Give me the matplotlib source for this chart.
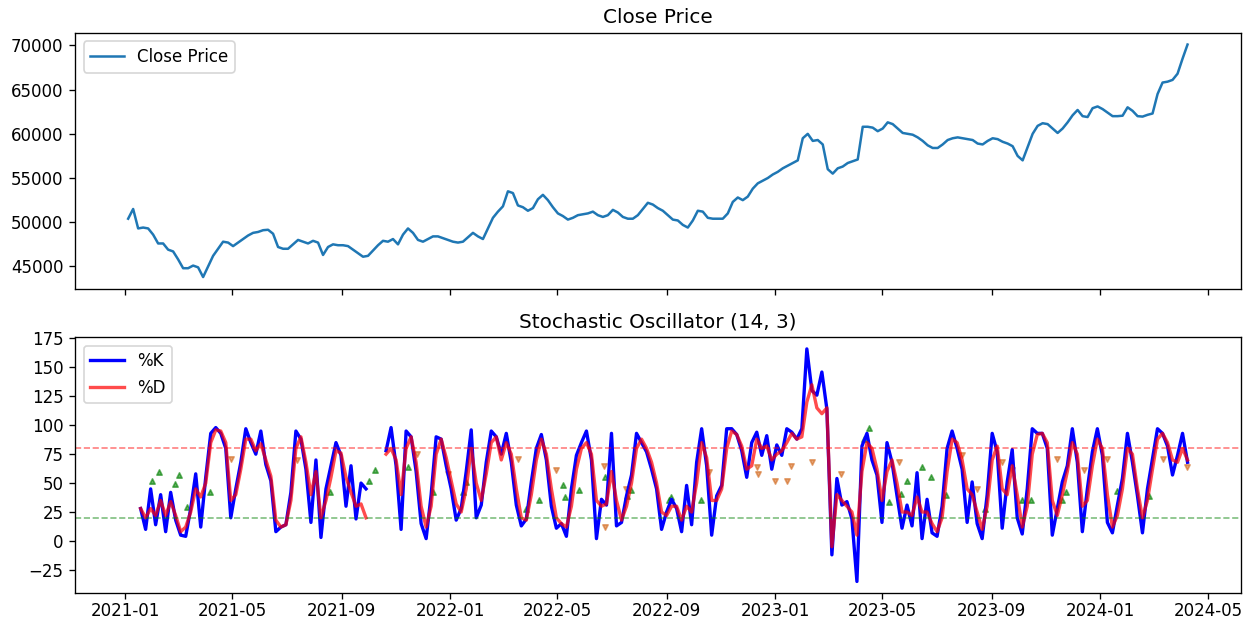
import numpy as np
import pandas as pd
from matplotlib import pyplot as plt
from matplotlib.ticker import MultipleLocator

nan = np.nan

# close price at an even spacing
close_prices = [
    50400, 51500, 49300, 49400, 49300, 48600, 47600, 47600, 46900, 46700,
    45800, 44800, 44800, 45100, 44900, 43800, 45000, 46200, 47000, 47800,
    47700, 47300, 47700, 48100, 48500, 48800, 48900, 49100, 49150, 48700,
    47200, 47000, 47000, 47500, 48000, 47800, 47600, 47900, 47700, 46300,
    47200, 47500, 47400, 47400, 47300, 46900, 46500, 46100, 46200, 46800,
    47400, 47900, 47800, 48100, 47500, 48600, 49300, 48800, 48000, 47800,
    48100, 48400, 48400, 48200, 48000, 47800, 47700, 47800, 48300, 48800,
    48400, 48100, 49300, 50500, 51200, 51800, 53500, 53300, 51900, 51700,
    51300, 51600, 52600, 53100, 52500, 51700, 51000, 50700, 50300, 50500,
    50800, 50900, 51000, 51200, 50800, 50600, 50800, 51400, 51100, 50600,
    50400, 50400, 50800, 51500, 52200, 52000, 51600, 51300, 50800, 50300,
    50200, 49700, 49400, 50200, 51300, 51200, 50500, 50400, 50400, 50400,
    51000, 52300, 52800, 52500, 52900, 53800, 54400, 54700, 55000, 55400,
    55700, 56100, 56400, 56700, 57000, 59500, 60000, 59200, 59300, 58800,
    56000, 55500, 56100, 56300, 56700, 56900, 57100, 60800, 60800, 60700,
    60300, 60600, 61300, 61100, 60600, 60100, 60000, 59900, 59600, 59200,
    58700, 58400, 58400, 58800, 59300, 59500, 59600, 59500, 59400, 59300,
    58900, 58800, 59200, 59500, 59400, 59100, 58900, 58600, 57500, 57000,
    58500, 60000, 60900, 61200, 61100, 60600, 60100, 60600, 61300, 62100,
    62700, 62000, 61900, 62900, 63100, 62800, 62400, 62000, 62000, 62050,
    63000, 62600, 62000, 61950, 62150, 62300, 64500, 65800, 65900, 66100,
    66800, 68500, 70100,
]

# stochastic %K and %D, same spacing, gap in autumn 2021
pct_k = [
    28, 10, 45, 14, 40, 8, 42, 18, 5, 4, 28, 58, 12, 55, 93, 98, 93, 80,
    20, 45, 68, 97, 85, 75, 95, 66, 52, 8, 12, 14, 42, 95, 88, 62, 16, 70,
    3, 45, 65, 85, 74, 30, 65, 19, 50, 45, nan, nan, nan, 78, 98, 65, 10, 95,
    90, 60, 15, 2, 40, 90, 88, 65, 45, 18, 28, 60, 96, 20, 31, 68, 95, 90,
    75, 93, 68, 31, 13, 19, 51, 80, 92, 70, 30, 11, 15, 4, 45, 74, 85, 95,
    70, 2, 36, 31, 93, 13, 16, 39, 57, 93, 85, 77, 62, 45, 10, 25, 36, 28,
    8, 48, 14, 68, 97, 65, 5, 39, 48, 97, 97, 92, 78, 55, 85, 94, 74, 91,
    62, 83, 74, 97, 94, 88, 97, 166, 130, 126, 146, 114, -12, 54, 31, 34, 19, -35,
    82, 93, 70, 57, 16, 85, 68, 39, 11, 31, 13, 59, 2, 36, 7, 4, 30, 80,
    95, 80, 62, 16, 51, 15, 2, 40, 93, 77, 11, 51, 79, 20, 6, 45, 97, 93,
    93, 80, 5, 28, 51, 65, 97, 68, 8, 45, 77, 97, 74, 16, 7, 31, 54, 93,
    68, 39, 7, 45, 71, 97, 93, 82, 57, 74, 93, 68,
]
pct_d = [
    28, 20, 28, 22, 35, 22, 34, 22, 8, 12, 25, 45, 38, 50, 85, 96, 95, 85,
    35, 40, 62, 88, 88, 78, 84, 70, 56, 18, 12, 14, 35, 80, 90, 68, 40, 60,
    20, 35, 55, 78, 76, 55, 42, 30, 32, 20, nan, nan, nan, 75, 80, 70, 40, 80,
    90, 68, 30, 12, 30, 75, 88, 72, 52, 32, 25, 45, 80, 50, 35, 58, 85, 90,
    70, 85, 75, 45, 20, 18, 40, 70, 88, 75, 45, 20, 15, 12, 30, 62, 80, 85,
    75, 35, 30, 32, 60, 35, 18, 30, 50, 80, 88, 80, 68, 50, 25, 22, 30, 30,
    18, 30, 25, 50, 85, 72, 35, 35, 45, 80, 95, 92, 82, 62, 65, 88, 80, 82,
    70, 75, 78, 85, 93, 88, 90, 120, 135, 115, 110, 115, -5, 40, 35, 30, 25, 5,
    60, 85, 80, 62, 35, 60, 70, 50, 25, 25, 22, 38, 25, 25, 15, 8, 20, 60,
    88, 85, 70, 45, 40, 25, 10, 30, 70, 82, 45, 40, 65, 40, 12, 30, 75, 92,
    93, 85, 35, 22, 40, 60, 85, 75, 30, 35, 65, 88, 80, 40, 12, 22, 45, 80,
    75, 45, 20, 35, 62, 88, 93, 85, 70, 68, 80, 70,
]

buy_dates = ['2021-01-31', '2021-02-08', '2021-02-26', '2021-03-02', '2021-03-11',
             '2021-04-06', '2021-08-19', '2021-10-02', '2021-10-08', '2021-11-14',
             '2021-12-12', '2022-01-15', '2022-01-18', '2022-03-27', '2022-04-10',
             '2022-05-08', '2022-05-10', '2022-05-25', '2022-06-24', '2022-07-18',
             '2022-07-23', '2022-09-03', '2022-09-06', '2022-10-09', '2023-04-11',
             '2023-04-16', '2023-05-09', '2023-05-22', '2023-05-29', '2023-06-15',
             '2023-06-25', '2023-07-12', '2023-08-24', '2023-10-05', '2023-10-15',
             '2023-11-19', '2023-11-24', '2024-01-20', '2024-02-25']
buy_values = [52, 60, 49, 57, 29, 42, 42, 52, 61, 64, 42, 42, 51, 28, 35, 48, 38,
              44, 55, 39, 44, 35, 38, 35, 88, 98, 34, 41, 52, 64, 55, 40, 28, 35,
              35, 35, 42, 43, 39]

sell_dates = ['2021-04-29', '2021-07-13', '2021-11-25', '2021-12-29', '2022-03-18',
              '2022-04-30', '2022-06-22', '2022-06-24', '2022-07-17', '2022-10-18',
              '2022-12-11', '2022-12-13', '2023-01-01', '2023-01-14', '2023-01-19',
              '2023-02-11', '2023-03-16', '2023-05-20', '2023-07-30', '2023-08-15',
              '2023-09-13', '2023-09-24', '2023-11-13', '2023-12-14', '2024-01-09',
              '2024-03-11', '2024-04-07']
sell_values = [71, 70, 75, 58, 71, 61, 65, 12, 45, 60, 64, 58, 52, 52, 65, 68, 58,
               68, 74, 45, 68, 61, 71, 61, 71, 71, 64]

close_dates = pd.date_range('2021-01-04', '2024-04-08', periods=len(close_prices))
osc_dates = pd.date_range('2021-01-18', '2024-04-08', periods=len(pct_k))

fig, (ax1, ax2) = plt.subplots(2, 1, figsize=(10.442, 5.175), dpi=120, sharex=True)
fig.subplots_adjust(left=0.06, right=0.99, top=0.947, bottom=0.045, hspace=0.19)

ax1.plot(close_dates, close_prices, label='Close Price', lw=1.5)
ax1.set_title('Close Price')
ax1.legend(loc='upper left')

ax2.plot(osc_dates, pct_k, label='%K', color='blue', lw=2)
ax2.plot(osc_dates, pct_d, label='%D', color='red', lw=2, alpha=0.7)
ax2.axhline(80, color='red', ls='--', lw=1, alpha=0.5)
ax2.axhline(20, color='green', ls='--', lw=1, alpha=0.5)
ax2.scatter(pd.to_datetime(buy_dates), buy_values, marker='^', color='green', s=10, alpha=0.6)
ax2.scatter(pd.to_datetime(sell_dates), sell_values, marker='v', color='chocolate', s=10, alpha=0.6)
ax2.set_title('Stochastic Oscillator (14, 3)')
ax2.legend(loc='upper left')
ax2.yaxis.set_major_locator(MultipleLocator(25))
ax2.tick_params(axis='x', pad=2)

plt.savefig('out.png')
